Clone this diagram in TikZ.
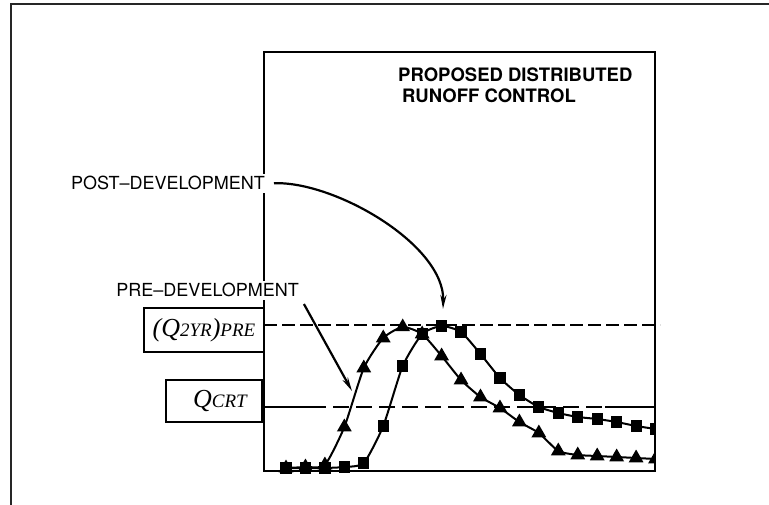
\documentclass[tikz,border=0pt]{standalone}
\usepackage{fontspec}
\setsansfont{TeX Gyre Heros}
\newfontfamily\timesf{Liberation Serif}
\usetikzlibrary{arrows.meta,plotmarks}
\tikzset{
  frameline/.style={line width=2.2pt, black!85},
  plotbox/.style={line width=2pt, black},
  labtext/.style={font=\sffamily\fontsize{18}{20}\selectfont, fill=white, inner sep=3pt},
  titletext/.style={font=\sffamily\bfseries\fontsize{18.5}{20.5}\selectfont, align=left, inner sep=0pt, anchor=north west},
  labbox/.style={draw, line width=2pt, fill=white, inner sep=0pt},
  refline/.style={line width=2.2pt},
  pointer/.style={line width=2.2pt, -{Stealth[length=14pt,width=6pt]}},
  curve/.style={line width=2pt, smooth, tension=0.35},
  trimark/.style={mark=triangle*, mark size=6.5pt, mark options={solid, fill=black}},
  sqmark/.style={mark=square*, mark size=4.6pt, mark options={solid, fill=black}},
}
\newcommand{\bigq}[1]{{\fontsize{26}{28}\selectfont #1}}
\newcommand{\smq}[1]{{\fontsize{19}{21}\selectfont #1}}
\begin{document}
\begin{tikzpicture}[x=1pt,y=-1pt]
\useasboundingbox (0,0) rectangle (769,505);
% outer frame
\draw[frameline] (11,505) -- (11,4) -- (769,4);
% plot box
\draw[plotbox] (264,52) rectangle (655,471);
% reference lines
\coordinate (qa) at (264,325);
\coordinate (qb) at (660,325);
\draw[refline, dash pattern=on 13pt off 5pt] (qa) -- (qb);
\coordinate (ca) at (262,407);
\coordinate (cb) at (310,407);
\coordinate (cc) at (605,407);
\coordinate (cd) at (655,407);
\draw[refline] (ca) -- (cb);
\draw[refline, dash pattern=on 16pt off 7pt] (cb) -- (cc);
\draw[refline] (cc) -- (cd);
% curves
\begin{scope}
\clip (200,40) rectangle (655,490);
\draw[curve, trimark] plot coordinates {
 (286,468) (305.45,467) (324.9,465) (344.35,427) (363.8,368) (383.25,338)
 (402.7,327) (422.15,334) (441.6,356) (461.05,380) (480.5,397) (499.95,408)
 (519.4,422) (538.85,433) (558.3,451) (577.75,455) (597.2,456) (616.65,457)
 (636.1,458) (655.55,459)};
\draw[curve, sqmark] plot coordinates {
 (286,468) (305.45,468) (324.9,468) (344.35,467) (363.8,463) (383.25,426)
 (402.7,366) (422.15,334) (441.6,326) (461.05,332) (480.5,354) (499.95,378)
 (519.4,395) (538.85,407) (558.3,413) (577.75,417) (597.2,419) (616.65,422)
 (636.1,426) (655.55,429)};
\end{scope}
% label boxes
\node[labbox, minimum width=120pt, minimum height=44pt] (q2) at (204,330)
  {\timesf\itshape\bigq{(Q}\smq{2YR}\bigq{)}\smq{PRE}};
\node[labbox, minimum width=96pt, minimum height=42pt] (qc) at (214,401)
  {\timesf\itshape\hspace*{12pt}\bigq{Q}\smq{CRT}};
% title
\node[titletext] (title) at (398,68) {PROPOSED DISTRIBUTED\\\hspace*{4pt}RUNOFF CONTROL};
% labels and pointers
\node[labtext, anchor=base east] (post) at (268,190) {POST–DEVELOPMENT};
\node[labtext, anchor=base east] (pre) at (302,297) {PRE–DEVELOPMENT};
\coordinate (postend) at (443,309);
\coordinate (preend) at (352,391);
\draw[pointer, shorten <=6pt] (post.east) .. controls (335,181) and (445,245) .. (postend);
\draw[pointer, shorten <=4pt] (pre.south east) -- (preend);
\end{tikzpicture}
\end{document}
